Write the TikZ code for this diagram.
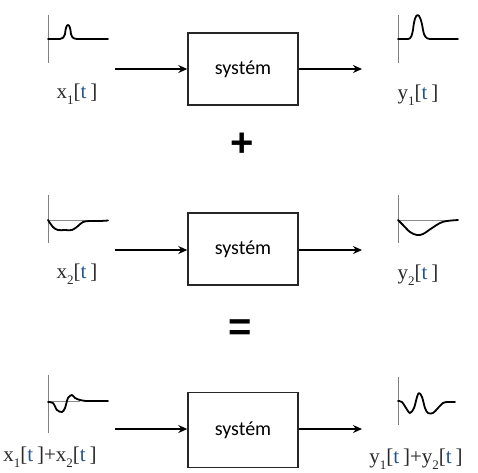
\documentclass[tikz,border=0pt]{standalone}
\usepackage{fontspec}
\setmainfont{Liberation Serif}
\newfontfamily\sysfont{Carlito}
\newfontfamily\opfont{Liberation Sans}
\usetikzlibrary{arrows.meta}
\definecolor{tcol}{RGB}{35,85,140}
\definecolor{lab}{RGB}{40,40,40}
\newcommand\sigl[2]{#1\raisebox{-.28em}{\fontsize{13}{13}\selectfont #2}[\textcolor{tcol}{t}\hspace{0.18em}]}
\begin{document}
\begin{tikzpicture}[x=1pt,y=-1pt,
  sysbox/.style={draw=black!85,line width=1.4pt,minimum width=110pt,minimum height=72pt,inner sep=0pt,font=\sysfont\fontsize{20}{20}\selectfont},
  flow/.style={line width=1.8pt,-{Stealth[length=9pt,width=8pt]}},
  axisline/.style={draw=black!50,line width=0.9pt},
  baseline/.style={draw=black!45,line width=0.8pt},
  sig/.style={draw=black,line width=1.8pt,line join=round,line cap=round},
  siglab/.style={text=lab,font=\fontsize{21}{21}\selectfont,inner sep=0pt},
  opsym/.style={font=\opfont\bfseries\fontsize{40}{40}\selectfont,inner sep=0pt}]
\useasboundingbox (0,0) rectangle (478,472);

% ---------- row 1 ----------
\node[sysbox] (s1) at (243,69) {systém};
\coordinate (i1) at (115,69);
\coordinate (o1) at (362,69);
\draw[flow] (i1) -- (s1.west);
\draw[flow] (s1.east) -- (o1);
\draw[axisline] (48,15) -- (48,63);
\draw[sig] (48,39) -- (60,39) .. controls (63,39) and (64,37) .. (65,34)
  .. controls (66,22) and (70,22) .. (71,34) .. controls (72,38) and (74,39) .. (78,39) -- (108,39);
\draw[axisline] (398,15) -- (398,63);
\draw[sig] (398,39) -- (408,39) .. controls (411,39) and (412,35) .. (413,30)
  .. controls (415,10) and (420,10) .. (423,30) .. controls (424,36) and (426,39) .. (430,39) -- (458,39);
\node[siglab] (lx1) at (77,94) {\sigl{x}{1}};
\node[siglab] (ly1) at (418,95) {\sigl{y}{1}};

\node[opsym] (plus) at (242,145) {+};

% ---------- row 2 ----------
\node[sysbox] (s2) at (243,249) {systém};
\coordinate (i2) at (115,250);
\coordinate (o2) at (362,250);
\draw[flow] (i2) -- (s2.west |- i2);
\draw[flow] (s2.east |- o2) -- (o2);
\draw[axisline] (48,195) -- (48,243);
\draw[baseline] (48,220) -- (108,220);
\draw[sig] plot[smooth,tension=0.6] coordinates {(48,220) (53,227) (58,230) (65,230) (72,230) (78,226) (83,222) (90,221) (100,221) (108,220.5)};
\draw[axisline] (398,195) -- (398,243);
\draw[baseline] (398,220) -- (458,220);
\draw[sig] plot[smooth,tension=0.6] coordinates {(398,220) (403,225) (410,232) (417,235) (423,234) (432,228) (440,223) (447,221) (458,220)};
\node[siglab] (lx2) at (77,274) {\sigl{x}{2}};
\node[siglab] (ly2) at (418,275) {\sigl{y}{2}};

\node[opsym] (eq) at (240,330) {=};

% ---------- row 3 ----------
\node[sysbox,minimum height=75pt] (s3) at (243,430) {systém};
\coordinate (i3) at (115,429);
\coordinate (o3) at (362,429);
\draw[flow] (i3) -- (s3.west |- i3);
\draw[flow] (s3.east |- o3) -- (o3);
\draw[axisline] (48,375) -- (48,433);
\draw[baseline] (48,401) -- (80,401);
\draw[sig] plot[smooth,tension=0.55] coordinates {(48,402) (53,403) (57,410) (62,412) (65,408) (68,398) (72,395) (75,398) (80,400) (86,401)} -- (108,401);
\draw[axisline] (398,377) -- (398,425);
\draw[sig] plot[smooth,tension=0.55] coordinates {(398,401) (402,402) (406,408) (410,413) (414,408) (417,397) (419,393) (422,397) (425,408) (428,413) (433,413) (438,408) (443,403) (447,402)} -- (455,402);
\node[siglab] (lx3) at (50,457) {\sigl{x}{1}+\sigl{x}{2}};
\node[siglab] (ly3) at (416,459) {\sigl{y}{1}+\sigl{y}{2}};
\end{tikzpicture}
\end{document}
